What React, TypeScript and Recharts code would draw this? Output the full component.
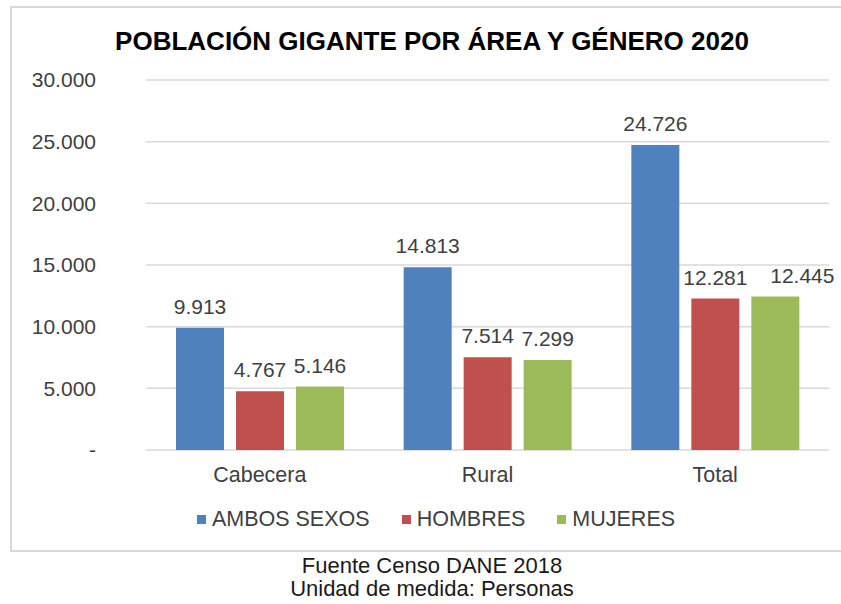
import { BarChart, Bar, XAxis, YAxis, CartesianGrid, Legend, LabelList } from 'recharts';

const areas = ['Cabecera', 'Rural', 'Total'];
const ambosSexos = [9913, 14813, 24726];
const hombres = [4767, 7514, 12281];
const mujeres = [5146, 7299, 12445];
const yTicks = [0, 5000, 10000, 15000, 20000, 25000, 30000];

const series = [
  { key: 'ambos', name: 'AMBOS SEXOS', color: '#4F81BD' },
  { key: 'hombres', name: 'HOMBRES', color: '#C0504D' },
  { key: 'mujeres', name: 'MUJERES', color: '#9BBB59' },
];

const data = areas.map((area, i) => ({
  area,
  ambos: ambosSexos[i],
  hombres: hombres[i],
  mujeres: mujeres[i],
}));

const FONT = '"Liberation Sans", Arial, sans-serif';

// miles con punto, el cero como guion
function fmt(v: number) {
  if (v === 0) return '-';
  return String(v).replace(/\B(?=(\d{3})+(?!\d))/g, '.');
}

// etiqueta encima de la barra; la de mujeres/Total va corrida a la derecha como en el original
function makeLabel(seriesKey: string) {
  return (props: any) => {
    const { x, y, width, value, index } = props;
    const shift = seriesKey === 'mujeres' && index === areas.length - 1 ? 27 : 0;
    return (
      <text
        x={Number(x) + Number(width) / 2 + shift}
        y={Number(y) - 14}
        textAnchor="middle"
        fill="#404040"
        fontSize={21}
        fontFamily={FONT}
      >
        {fmt(Number(value))}
      </text>
    );
  };
}

function LegendBox() {
  return (
    <div style={{ display: 'flex', justifyContent: 'center', gap: 32, fontFamily: FONT, fontSize: 21.5, color: '#404040' }}>
      {series.map(s => (
        <div key={s.key} style={{ display: 'flex', alignItems: 'center' }}>
          <span style={{ width: 9, height: 9, background: s.color, marginRight: 6, display: 'inline-block' }} />
          <span>{s.name}</span>
        </div>
      ))}
    </div>
  );
}

export default function App() {
  return (
    <div style={{ position: 'absolute', left: 0, top: 0, width: 841, height: 604, background: '#fff', overflow: 'hidden' }}>
      <div style={{ position: 'absolute', left: 10, top: 6, width: 860, height: 542, border: '2px solid #d9d9d9' }} />
      <div
        style={{
          position: 'absolute', left: 0, width: 864, top: 28, textAlign: 'center',
          fontFamily: FONT, fontWeight: 'bold', fontSize: 26, lineHeight: '26px', color: '#000',
        }}
      >
        POBLACIÓN GIGANTE POR ÁREA Y GÉNERO 2020
      </div>
      <div style={{ position: 'absolute', left: 0, top: 0 }}>
        <BarChart
          width={841}
          height={550}
          data={data}
          margin={{ top: 80, right: 12, left: 46, bottom: 60 }}
          barGap={12}
          barSize={48}
        >
          <CartesianGrid vertical={false} stroke="#d9d9d9" strokeWidth={1.5} />
          <XAxis
            dataKey="area"
            height={40}
            axisLine={false}
            tickLine={false}
            tickSize={0}
            tickMargin={17}
            tick={{ fill: '#404040', fontSize: 21.5, fontFamily: FONT }}
          />
          <YAxis
            width={100}
            domain={[0, 30000]}
            ticks={yTicks}
            axisLine={false}
            tickLine={false}
            tickSize={0}
            tickMargin={50}
            tickFormatter={fmt}
            tick={{ fill: '#404040', fontSize: 21, fontFamily: FONT }}
          />
          <Legend
            verticalAlign="middle"
            align="center"
            content={() => <LegendBox />}
            wrapperStyle={{ top: 507, left: 0, width: 872 }}
          />
          {series.map(s => (
            <Bar key={s.key} dataKey={s.key} name={s.name} fill={s.color} isAnimationActive={false}>
              <LabelList dataKey={s.key} content={makeLabel(s.key)} />
            </Bar>
          ))}
        </BarChart>
      </div>
      <div
        style={{
          position: 'absolute', left: 0, width: 864, top: 554, textAlign: 'center',
          fontFamily: FONT, fontSize: 22, lineHeight: '23px', color: '#1a1a1a',
        }}
      >
        <div>Fuente Censo DANE 2018</div>
        <div>Unidad de medida: Personas</div>
      </div>
    </div>
  );
}
